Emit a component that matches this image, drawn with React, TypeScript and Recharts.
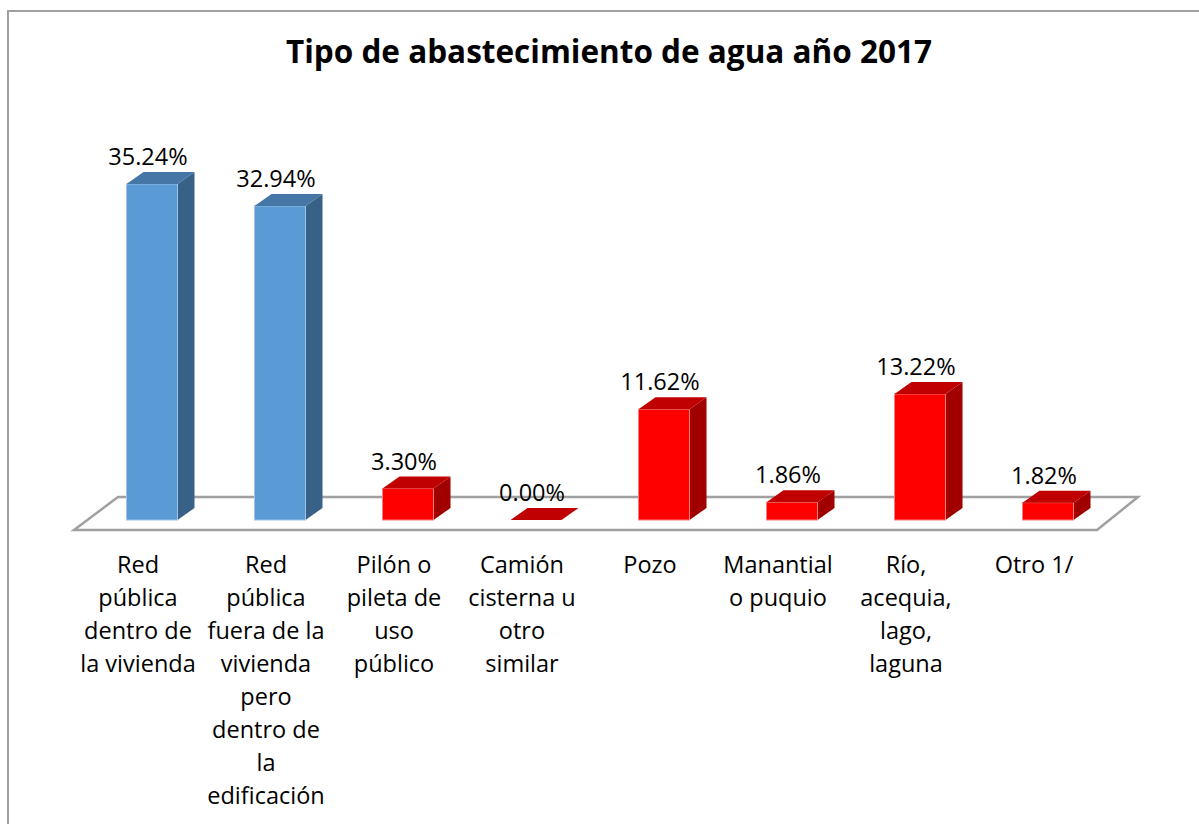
import React from 'react';
import { BarChart, Bar, XAxis, YAxis, LabelList, ReferenceArea } from 'recharts';

const title = 'Tipo de abastecimiento de agua año 2017';

const categories = [
  'Red pública dentro de la vivienda',
  'Red pública fuera de la vivienda pero dentro de la edificación',
  'Pilón o pileta de uso público',
  'Camión cisterna u otro similar',
  'Pozo',
  'Manantial o puquio',
  'Río, acequia, lago, laguna',
  'Otro 1/',
];

const categoryLines = [
  ['Red', 'pública', 'dentro de', 'la vivienda'],
  ['Red', 'pública', 'fuera de la', 'vivienda', 'pero', 'dentro de', 'la', 'edificación'],
  ['Pilón o', 'pileta de', 'uso', 'público'],
  ['Camión', 'cisterna u', 'otro', 'similar'],
  ['Pozo'],
  ['Manantial', 'o puquio'],
  ['Río,', 'acequia,', 'lago,', 'laguna'],
  ['Otro 1/'],
];

const values = [35.24, 32.94, 3.3, 0.0, 11.62, 1.86, 13.22, 1.82];

const groups = ['red', 'red', 'other', 'other', 'other', 'other', 'other', 'other'];

const palettes: Record<string, { front: string; top: string; side: string; edge: string }> = {
  red: { front: '#5B9BD5', top: '#4676A6', side: '#386188', edge: '#9DC3E6' },
  other: { front: '#FF0000', top: '#C00000', side: '#A00000', edge: '#FF7F7F' },
};

const data = categories.map((name, i) => ({ name, value: values[i], group: groups[i] }));

const FONT = '"Open Sans", sans-serif';
const DX = 17;
const DY = 12;

const Bar3D = (props: any) => {
  const { x, y, width, height, payload } = props;
  const c = palettes[payload.group];
  const top = y;
  const bottom = y + height;
  return (
    <g>
      {height > 0 && (
        <polygon
          points={`${x + width},${top} ${x + width + DX},${top - DY} ${x + width + DX},${bottom - DY} ${x + width},${bottom}`}
          fill={c.side}
        />
      )}
      {height > 0 && (
        <rect x={x} y={y} width={width} height={height} fill={c.front} stroke={c.edge} strokeWidth={1} />
      )}
      <polygon
        points={`${x},${top} ${x + width},${top} ${x + width + DX},${top - DY} ${x + DX},${top - DY}`}
        fill={c.top}
      />
    </g>
  );
};

const Floor = (props: any) => {
  const { x, y, width, height } = props;
  const base = y + height;
  const fy = base + 10;
  const by = base - 23;
  const pts = `${x - 13.5},${fy} ${x + width - 14.5},${fy} ${x + width + 26.5},${by} ${x + 30.5},${by}`;
  return <polygon points={pts} fill="#FFFFFF" stroke="#A0A0A0" strokeWidth={2.5} />;
};

const CategoryTick = (props: any) => {
  const { x, y, payload } = props;
  const idx = categories.indexOf(payload.value);
  const lines = categoryLines[idx] || [];
  return (
    <text textAnchor="middle" fontFamily={FONT} fontSize={23.5} fill="#000000">
      {lines.map((l, i) => (
        <tspan key={i} x={x - 13.5} y={y + 53 + i * 33}>
          {l}
        </tspan>
      ))}
    </text>
  );
};

const ValueLabel = (props: any) => {
  const { x, y, width, value } = props;
  return (
    <text x={x + width / 2 - 4} y={y - 19} textAnchor="middle" fontFamily={FONT} fontSize={23.5} fill="#000000">
      {`${Number(value).toFixed(2)}%`}
    </text>
  );
};

export default function App() {
  return (
    <div style={{ position: 'absolute', left: 0, top: 0, width: 1199, height: 824, background: '#FFFFFF', overflow: 'hidden' }}>
      <div
        style={{
          position: 'absolute',
          left: 7,
          top: 10,
          width: 1192,
          height: 814,
          boxSizing: 'border-box',
          borderTop: '2px solid #A0A0A0',
          borderLeft: '2px solid #A0A0A0',
        }}
      />
      <div
        style={{
          position: 'absolute',
          left: 0,
          top: 34.5,
          width: 1218,
          textAlign: 'center',
          fontFamily: FONT,
          fontWeight: 700,
          fontSize: 31.5,
          lineHeight: '31.5px',
          color: '#000000',
          whiteSpace: 'nowrap',
        }}
      >
        {title}
      </div>
      <div style={{ position: 'absolute', left: 0, top: 0 }}>
        <BarChart
          width={1199}
          height={824}
          data={data}
          margin={{ top: 138.6, right: 87.5, left: 87.5, bottom: 274 }}
          barSize={51}
        >
          <ReferenceArea
            x1={categories[0]}
            x2={categories[categories.length - 1]}
            y1={0}
            y2={40}
            shape={<Floor />}
            ifOverflow="visible"
            zIndex={-50}
          />
          <XAxis
            dataKey="name"
            axisLine={false}
            tickLine={false}
            tickSize={0}
            tickMargin={0}
            interval={0}
            height={30}
            tick={<CategoryTick />}
          />
          <YAxis hide domain={[0, 40]} />
          <Bar dataKey="value" isAnimationActive={false} shape={<Bar3D />}>
            <LabelList dataKey="value" content={<ValueLabel />} />
          </Bar>
        </BarChart>
      </div>
    </div>
  );
}
